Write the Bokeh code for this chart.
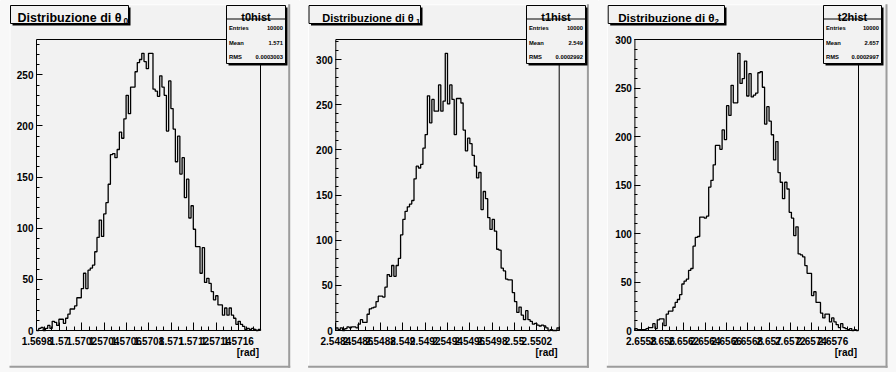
import numpy as np
from bokeh.plotting import figure
from bokeh.models import Range1d, FixedTicker, BoxAnnotation, Label
from bokeh.layouts import row
from bokeh.embed import file_html
from bokeh.resources import INLINE

# ---------------- data ----------------
t0_counts = [0, 2, 3, 0, 2, 5, 2, 9, 8, 5,
             11, 11, 7, 12, 16, 21, 21, 24, 32, 32,
             41, 56, 41, 59, 61, 64, 77, 91, 108, 92,
             114, 125, 143, 172, 173, 169, 177, 194, 188, 207,
             230, 212, 238, 238, 253, 262, 265, 271, 263, 256,
             271, 271, 236, 234, 229, 249, 238, 230, 195, 244,
             217, 197, 165, 190, 153, 169, 130, 148, 110, 122,
             99, 82, 82, 56, 81, 47, 51, 46, 38, 30,
             34, 25, 25, 15, 22, 15, 22, 15, 12, 6,
             9, 6, 4, 1, 2, 1, 2, 1, 0, 1]
t1_counts = [3, 1, 3, 0, 2, 4, 3, 4, 4, 3,
             7, 12, 9, 9, 18, 24, 25, 26, 32, 38,
             38, 37, 48, 62, 60, 72, 60, 72, 80, 106,
             123, 132, 137, 140, 144, 168, 182, 180, 184, 202,
             217, 260, 230, 256, 243, 243, 272, 243, 254, 307,
             251, 272, 256, 217, 257, 257, 252, 222, 199, 213,
             207, 194, 182, 169, 175, 134, 154, 146, 125, 112,
             123, 110, 90, 89, 69, 66, 57, 56, 56, 42,
             32, 20, 26, 17, 12, 22, 12, 10, 7, 8,
             6, 5, 6, 5, 3, 0, 1, 0, 0, 3]
t2_counts = [2, 1, 1, 1, 1, 2, 3, 3, 7, 2,
             11, 12, 12, 5, 17, 20, 20, 24, 29, 32,
             37, 48, 51, 53, 62, 64, 87, 96, 97, 117,
             117, 116, 118, 148, 155, 171, 191, 191, 187, 207,
             197, 232, 222, 253, 235, 235, 286, 255, 260, 278,
             242, 265, 241, 243, 245, 266, 267, 251, 213, 231,
             216, 202, 176, 195, 163, 153, 136, 153, 146, 122,
             116, 98, 107, 79, 78, 76, 67, 59, 59, 36,
             40, 29, 29, 18, 13, 17, 17, 9, 13, 9,
             6, 3, 7, 3, 2, 1, 2, 0, 1, 0]

t0_range = [1.569796, 1.571796]
t1_range = [2.5484, 2.5504]
t2_range = [2.65574, 2.65784]

t0_ticks = [1.5698, 1.57, 1.5702, 1.5704, 1.5706, 1.5708, 1.571, 1.5712, 1.5714, 1.5716]
t0_tick_labels = ["1.5698", "1.57", "1.5702", "1.5704", "1.5706", "1.5708", "1.571", "1.5712", "1.5714", "1.5716"]
t1_ticks = [2.5484, 2.5486, 2.5488, 2.549, 2.5492, 2.5494, 2.5496, 2.5498, 2.55, 2.5502]
t1_tick_labels = ["2.5484", "2.5486", "2.5488", "2.549", "2.5492", "2.5494", "2.5496", "2.5498", "2.55", "2.5502"]
t2_ticks = [2.6558, 2.656, 2.6562, 2.6564, 2.6566, 2.6568, 2.657, 2.6572, 2.6574, 2.6576]
t2_tick_labels = ["2.6558", "2.656", "2.6562", "2.6564", "2.6566", "2.6568", "2.657", "2.6572", "2.6574", "2.6576"]

y_ticks = [0, 50, 100, 150, 200, 250, 300]
y_minor_ticks = list(range(0, 330, 10))

hist_names = ["t0hist", "t1hist", "t2hist"]
titles = ["Distribuzione di θ", "Distribuzione di θ", "Distribuzione di θ"]
title_subscripts = ["0", "1", "2"]
stat_entries = ["10000", "10000", "10000"]
stat_means = ["1.571", "2.549", "2.657"]
stat_rms = ["0.0003003", "0.0002992", "0.0002997"]
x_title = "[rad]"

# ---------------- layout (page pixels) ----------------
FONT = "Liberation Sans"
PAD = "#f2f2f2"
CANVAS = "#f8f8f8"
DARK = "#9c9c9c"
H = 372
PAGE_TOP = 0
PAGE_BOTTOM = PAGE_TOP + H
FR_TOP, FR_BOTTOM = 39.0, 330.0      # ROOT frame, page y
PAD_TOP, PAD_BOTTOM = 3.7, 367.3

layouts = [
    dict(fl=0, w=299, frl=36.0, frr=260.0, pad=(9.0, 289.7), tbox=(10, 128), tx=17, tfs=12.5, subx=123, sbox=(226, 285)),
    dict(fl=299, w=299, frl=335.3, frr=558.7, pad=(307.6, 588.4), tbox=(308.5, 420), tx=321.7, tfs=11, subx=415.5, sbox=(526, 585)),
    dict(fl=598, w=298, frl=634.4, frr=858.0, pad=(606.3, 887.0), tbox=(607.7, 724), tx=617.7, tfs=11.6, subx=714, sbox=(823, 881)),
]

series = [
    (t0_counts, t0_range, t0_ticks, t0_tick_labels),
    (t1_counts, t1_range, t1_ticks, t1_tick_labels),
    (t2_counts, t2_range, t2_ticks, t2_tick_labels),
]


def make_pad(i):
    counts, xr, ticks, tlabels = series[i]
    L = layouts[i]
    a, b = xr
    ymax = 1.05 * max(counts)
    fl, w = L["fl"], L["w"]
    kx = (L["frr"] - L["frl"]) / (b - a)
    ky = (FR_BOTTOM - FR_TOP) / ymax
    x_start = a - (L["frl"] - fl) / kx
    x_end = b + (fl + w - L["frr"]) / kx
    y_start = -(PAGE_BOTTOM - FR_BOTTOM) / ky
    y_end = ymax + (FR_TOP - PAGE_TOP) / ky

    p = figure(width=w, height=H, x_range=Range1d(x_start, x_end), y_range=Range1d(y_start, y_end),
               output_backend="svg", toolbar_location=None,
               min_border_left=0, min_border_right=0, min_border_top=0, min_border_bottom=0)
    p.title.visible = False
    p.xgrid.visible = False
    p.ygrid.visible = False
    p.background_fill_color = PAD
    p.border_fill_color = PAD
    p.outline_line_color = None

    # ROOT frame (from the data ranges) and histogram outline
    p.quad(left=[a], right=[b], bottom=[0], top=[ymax], fill_color=None, line_color="black", line_width=1)
    edges = np.linspace(a, b, len(counts) + 1)
    xs = np.repeat(edges, 2)
    ys = np.concatenate([[0], np.repeat(np.array(counts, dtype=float), 2), [0]])
    p.line(xs, ys, line_color="black", line_width=1.3)

    # axes placed on the frame edges
    for ax in (p.xaxis[0], p.yaxis[0]):
        ax.axis_line_color = None
        ax.major_tick_line_color = "black"
        ax.minor_tick_line_color = "black"
        ax.major_tick_out = 0
        ax.minor_tick_out = 0
        ax.major_label_text_font = FONT
        ax.major_label_text_font_style = "bold"
        ax.major_label_text_font_size = "10px"
        ax.major_label_text_color = "black"
    step = (ticks[1] - ticks[0]) / 3.0
    minor = [ticks[0] + step * k for k in range(-3, 3 * len(ticks) + 3)]
    minor = [m for m in minor if a <= m <= b]
    p.xaxis.ticker = FixedTicker(ticks=ticks, minor_ticks=minor)
    p.xaxis.major_label_overrides = dict(zip(ticks, tlabels))
    p.xaxis.fixed_location = 0
    p.xaxis.major_tick_in = 8
    p.xaxis.minor_tick_in = 4
    p.xaxis.major_label_standoff = 6
    p.yaxis.ticker = FixedTicker(ticks=[t for t in y_ticks if t <= ymax],
                                 minor_ticks=[t for t in y_minor_ticks if t <= ymax])
    p.yaxis.fixed_location = a
    p.yaxis.major_tick_in = 6
    p.yaxis.minor_tick_in = 3
    p.yaxis.major_label_standoff = 3

    def box(x0, x1, y0, y1, color, line=None):
        p.add_layout(BoxAnnotation(left=x0 - fl, right=x1 - fl, top=PAGE_BOTTOM - y0,
                                   bottom=PAGE_BOTTOM - y1,
                                   left_units="screen", right_units="screen",
                                   top_units="screen", bottom_units="screen",
                                   fill_color=color, fill_alpha=1.0,
                                   line_color=line if line else color,
                                   line_alpha=1.0 if line else 0.0,
                                   line_width=1, level="annotation"))

    def text(x, y, s, size, align="left", baseline="alphabetic"):
        p.add_layout(Label(x=x - fl, y=PAGE_BOTTOM - y, x_units="screen", y_units="screen",
                           text=s, text_font=FONT, text_font_size=f"{size}px",
                           text_font_style="bold", text_color="black",
                           text_align=align, text_baseline=baseline))

    # canvas around the pad, and the pad's 3D border
    fr = fl + w
    px0, px1 = L["pad"]
    if px0 > fl:
        box(fl, px0, PAGE_TOP, PAGE_BOTTOM, CANVAS)
    if fr > px1:
        box(px1, fr, PAGE_TOP, PAGE_BOTTOM, CANVAS)
    box(fl, fr, PAGE_TOP, PAD_TOP, CANVAS)
    box(fl, fr, PAD_BOTTOM, PAGE_BOTTOM, CANVAS)
    box(px0, px0 + 1, PAD_TOP, PAD_BOTTOM, "#ffffff")
    box(px0, px1, PAD_TOP, PAD_TOP + 1, "#ffffff")
    box(px1 - 2, px1, PAD_TOP, PAD_BOTTOM, DARK)
    box(px0, px1, PAD_BOTTOM - 2, PAD_BOTTOM, DARK)

    # title box
    tx0, tx1 = L["tbox"]
    box(tx0 + 2, tx1 + 2, 7, 25, "black")
    box(tx0, tx1, 5, 23, PAD, line="black")
    text(L["tx"], 17.3, titles[i], L["tfs"])
    text(L["subx"], 20.6, title_subscripts[i], round(L["tfs"] * 0.68, 1))

    # stats box
    sx0, sx1 = L["sbox"]
    box(sx0 + 2, sx1 + 2, 7, 65, "black")
    box(sx0, sx1, 5, 63, PAD, line="black")
    box(sx0, sx1, 18, 19, "black")
    text((sx0 + sx1) / 2, 16, hist_names[i], 11, align="center")
    rows = [("Entries", stat_entries[i]), ("Mean", stat_means[i]), ("RMS", stat_rms[i])]
    for k, (nm, val) in enumerate(rows):
        yy = [27.3, 42.0, 56.5][k]
        text(sx0 + 2.5, yy, nm, 5.8)
        text(sx1 - 2.5, yy, val, 5.8, align="right")

    # x axis title
    text(L["frr"] - 1.5, 346, x_title, 10, align="right", baseline="top")
    return p


layout = row(make_pad(0), make_pad(1), make_pad(2))
open("out.html", "w").write(file_html(layout, INLINE))
